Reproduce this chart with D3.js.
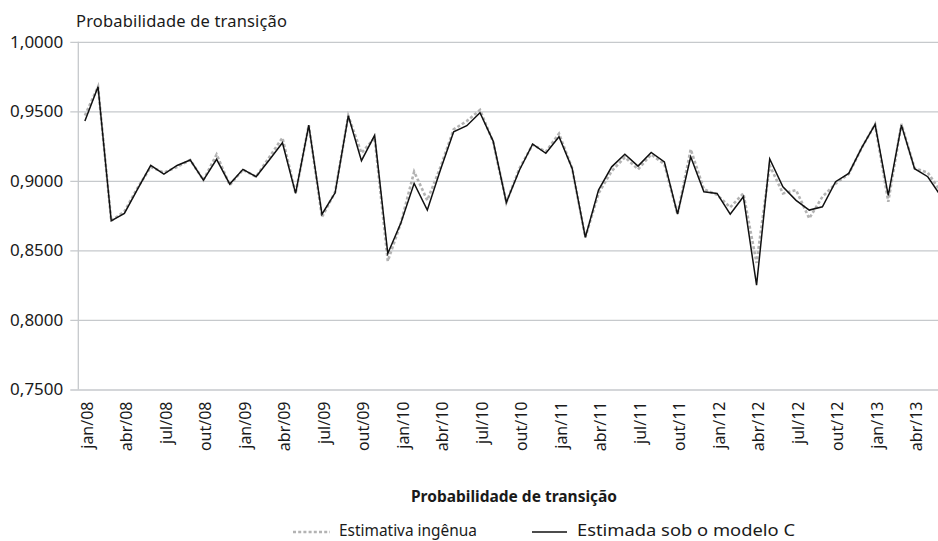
<!DOCTYPE html>
<html><head><meta charset="utf-8">
<script src="https://cdn.jsdelivr.net/npm/d3@7/dist/d3.min.js"></script>
<style>
html,body{margin:0;padding:0;background:#fff;overflow:hidden}
svg{display:block}
text{font-family:"Noto Sans","Open Sans",sans-serif;fill:#1a1a1a}
</style></head><body>
<svg id="c" width="938" height="541"></svg>
<script>
const monthNames = ["jan","fev","mar","abr","mai","jun","jul","ago","set","out","nov","dez"];
const years = ["08","09","10","11","12","13"];
const categories = [];
years.forEach(y => monthNames.forEach(m => categories.push(m + "/" + y)));
categories.splice(66); // jan/08 .. jun/13

const estimadaModeloC = [
  0.943,0.9677,0.8713,0.8766,0.894,0.9111,0.9049,0.9111,0.915,0.9006,0.9155,0.8977,
  0.9083,0.903,0.915,0.9274,0.891,0.940,0.876,0.8914,0.9468,0.9145,0.9327,0.8478,
  0.8699,0.8982,0.879,0.908,0.9353,0.9397,0.949,0.9286,0.8845,0.9078,0.9265,0.9198,
  0.9317,0.909,0.8594,0.8934,0.9101,0.9191,0.9106,0.9205,0.9137,0.8761,0.9173,0.8922,
  0.891,0.8761,0.8886,0.825,0.9157,0.8958,0.886,0.879,0.8814,0.8994,0.9054,0.9241,
  0.9406,0.8895,0.9401,0.9088,0.903,0.889
];
const estimativaIngenua = [
  0.947,0.9677,0.8713,0.878,0.895,0.910,0.906,0.910,0.915,0.9006,0.919,0.897,
  0.908,0.903,0.917,0.931,0.891,0.940,0.874,0.892,0.9468,0.920,0.931,0.8423,
  0.870,0.9066,0.886,0.910,0.937,0.943,0.951,0.928,0.8845,0.909,0.926,0.921,
  0.934,0.909,0.8594,0.891,0.907,0.917,0.9083,0.919,0.912,0.876,0.9227,0.894,
  0.890,0.881,0.891,0.841,0.911,0.891,0.8934,0.873,0.8886,0.898,0.905,0.924,
  0.9406,0.885,0.941,0.909,0.906,0.892
];
const yTicks = [0.75,0.80,0.85,0.90,0.95,1.00];
const xLabelEvery = 3;

const svg = d3.select("#c");
const mLeft = 78.3, mTop = 41.8, mBottom = 389.5;
const band = 13.17;
const mRight = mLeft + band * categories.length;

const x = d3.scalePoint().domain(categories).range([mLeft + band/2, mRight - band/2]);
const y = d3.scaleLinear().domain([0.75, 1.0]).range([mBottom, mTop]);
const fmt = v => d3.format(".4f")(v).replace(".", ",");

// grid + y axis
const yAxis = d3.axisLeft(y).tickValues(yTicks).tickSize(8).tickFormat(fmt).tickPadding(8);
const gy = svg.append("g").attr("transform", `translate(${mLeft},0)`).call(yAxis);
gy.select(".domain").remove();
gy.selectAll(".tick line").attr("x1", -8).attr("x2", mRight - mLeft).attr("stroke", "#c6c9cc").attr("stroke-width", 1.3);
gy.selectAll(".tick text").attr("x", -15).attr("font-size", 17).style("font-family", '"Noto Sans",sans-serif').attr("fill", "#1a1a1a");

// left vertical axis line
svg.append("line").attr("x1", mLeft).attr("x2", mLeft).attr("y1", mTop).attr("y2", mBottom)
  .attr("stroke", "#c6c9cc").attr("stroke-width", 1.3);

// x axis
const xAxis = d3.axisBottom(x).tickValues(categories.filter((d, i) => i % xLabelEvery === 0)).tickSize(0).tickPadding(0);
const gx = svg.append("g").attr("transform", `translate(0,${mBottom})`).call(xAxis);
gx.select(".domain").remove();
gx.selectAll(".tick text")
  .attr("transform", "rotate(-90)")
  .attr("x", -12).attr("y", 0).attr("dy", "0.36em")
  .attr("text-anchor", "end")
  .attr("font-size", 16).style("font-family", '"Noto Sans",sans-serif').attr("fill", "#1a1a1a");
gx.selectAll(".tick").attr("transform", d => `translate(${x(d) + 2},0)`);

// lines
const line = d3.line().x((d, i) => x(categories[i])).y(d => y(d));
svg.append("path").datum(estimativaIngenua).attr("d", line)
  .attr("fill", "none").attr("stroke", "#b3b3b3").attr("stroke-width", 2.6)
  .attr("stroke-dasharray", "3,2.2");
svg.append("path").datum(estimadaModeloC).attr("d", line)
  .attr("fill", "none").attr("stroke", "#111").attr("stroke-width", 1.5)
  .attr("stroke-linejoin", "miter");

// titles
svg.append("text").attr("x", 76).attr("y", 27).attr("font-size", 16.5)
  .attr("textLength", 211).attr("lengthAdjust", "spacing").text("Probabilidade de transição");
svg.append("text").attr("x", 514).attr("y", 502).attr("text-anchor", "middle")
  .attr("font-size", 15.5).attr("font-weight", "bold").text("Probabilidade de transição");

// legend
const lg = svg.append("g");
lg.append("line").attr("x1", 293).attr("x2", 330).attr("y1", 532).attr("y2", 532)
  .attr("stroke", "#b3b3b3").attr("stroke-width", 2.6).attr("stroke-dasharray", "3,2.2");
lg.append("text").attr("x", 339).attr("y", 536).attr("font-size", 16.5)
  .attr("textLength", 138).attr("lengthAdjust", "spacingAndGlyphs").text("Estimativa ingênua");
lg.append("line").attr("x1", 532).attr("x2", 567).attr("y1", 532).attr("y2", 532)
  .attr("stroke", "#111").attr("stroke-width", 1.5);
lg.append("text").attr("x", 577).attr("y", 536).attr("font-size", 16.5)
  .attr("textLength", 218).attr("lengthAdjust", "spacingAndGlyphs").text("Estimada sob o modelo C");
</script>
</body></html>
